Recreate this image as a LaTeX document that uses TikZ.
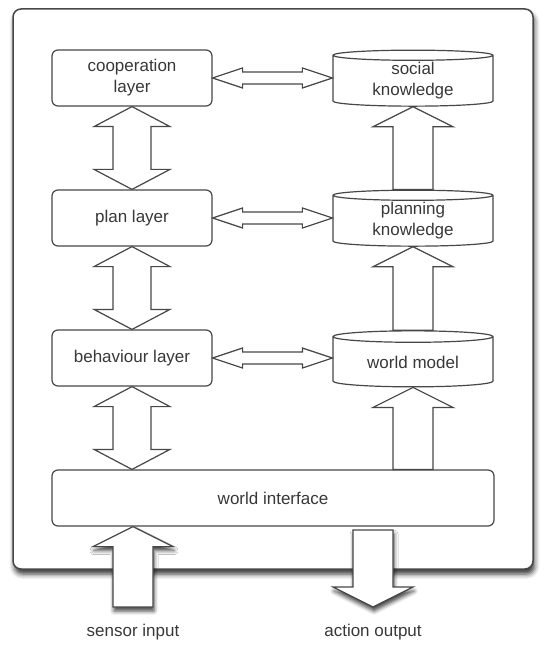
\documentclass[tikz,border=0pt]{standalone}
\usepackage{fontspec}
\setmainfont{Liberation Sans}
\usetikzlibrary{shapes.geometric,calc,shadows.blur}

\colorlet{edgegray}{black!72}
\colorlet{inkgray}{black!78}

% block arrow with one head, from #2 (tail) to #3 (tip)
\newcommand{\singlearrow}[3][]{%
  \coordinate (hd) at ($(#3)!20pt!(#2)$);
  \draw[blockarrow,#1] ($(#2)!20pt!90:(#3)$) -- ($(hd)!20pt!90:(#3)$) -- ($(hd)!40pt!90:(#3)$) -- (#3)
    -- ($(hd)!40pt!-90:(#3)$) -- ($(hd)!20pt!-90:(#3)$) -- ($(#2)!20pt!-90:(#3)$) -- cycle;}
% block arrow with two heads: ends, head length, head half width, shaft half width
\newcommand{\dblarrow}[5]{%
  \coordinate (ha) at ($(#1)!#3pt!(#2)$);
  \coordinate (hb) at ($(#2)!#3pt!(#1)$);
  \draw[blockarrow] (#1) -- ($(ha)!#4pt!90:(#2)$) -- ($(ha)!#5pt!90:(#2)$) -- ($(hb)!#5pt!90:(#2)$)
    -- ($(hb)!#4pt!90:(#2)$) -- (#2) -- ($(hb)!#4pt!-90:(#2)$) -- ($(hb)!#5pt!-90:(#2)$)
    -- ($(ha)!#5pt!-90:(#2)$) -- ($(ha)!#4pt!-90:(#2)$) -- cycle;}

\begin{document}
\begin{tikzpicture}[x=1pt,y=1pt,
  font=\fontsize{17}{21}\selectfont, text=inkgray,
  frame/.style={draw=edgegray, line width=1.5pt, rounded corners=8pt, fill=white,
    blur shadow={shadow xshift=1.5pt, shadow yshift=-5pt, shadow blur radius=5pt, shadow opacity=80}},
  layer/.style={draw=edgegray, line width=1.2pt, rounded corners=6pt, fill=white,
    minimum width=160, minimum height=56, inner sep=0pt, align=center},
  store/.style={cylinder, shape border rotate=90, aspect=0.125, draw=edgegray, line width=1.2pt,
    fill=white, minimum width=160, minimum height=56, inner sep=0pt, align=center},
  blockarrow/.style={draw=edgegray, line width=1.2pt, fill=white},
  dropped/.style={blur shadow={shadow xshift=1pt, shadow yshift=-4pt, shadow blur radius=4pt, shadow opacity=75}}]
\useasboundingbox (0,0) rectangle (548,-652);

\node[frame, minimum width=520, minimum height=560] (frame) at (273,-289) {};

% layers
\node[layer] (coop) at (132,-78) {cooperation\\layer};
\node[layer] (plan) at (132,-218) {plan layer};
\node[layer] (behav) at (132,-358) {behaviour layer};
\node[layer, minimum width=442] (wi) at (273,-498) {world interface};

% knowledge
\node[store] (social) at (413,-81) {social\\knowledge};
\node[store] (plank) at (413,-221) {planning\\knowledge};
\node[store] (wm) at (413,-362) {world model};

\node (sensor) at (133,-632) {sensor input};
\node (action) at (373,-632) {action output};

\coordinate (behav-out) at (behav.south |- wi.north);
\coordinate (social-at) at (coop.east -| social.west);
\coordinate (plank-at) at (plan.east -| plank.west);
\coordinate (wm-at) at (behav.east -| wm.west);
\coordinate (wm-in) at (wm.south |- wi.north);
\coordinate (plank-in) at (plank.south |- wm.north);
\coordinate (social-in) at (social.south |- plank.north);
\coordinate (sensor-tail) at (133,-607);
\coordinate (sensor-tip) at (sensor-tail |- wi.south);
\coordinate (action-tail) at (373,-530);
\coordinate (action-tip) at (373,-607);

\dblarrow{coop.south}{plan.north}{20}{38}{19}
\dblarrow{plan.south}{behav.north}{20}{38}{19}
\dblarrow{behav.south}{behav-out}{20}{38}{19}

\dblarrow{coop.east}{social-at}{30}{10}{6}
\dblarrow{plan.east}{plank-at}{30}{10}{6}
\dblarrow{behav.east}{wm-at}{30}{10}{6}

\singlearrow{wm-in}{wm.south}
\singlearrow{plank-in}{plank.south}
\singlearrow{social-in}{social.south}

\singlearrow[dropped]{sensor-tail}{sensor-tip}
\singlearrow[dropped]{action-tail}{action-tip}
\end{tikzpicture}
\end{document}
